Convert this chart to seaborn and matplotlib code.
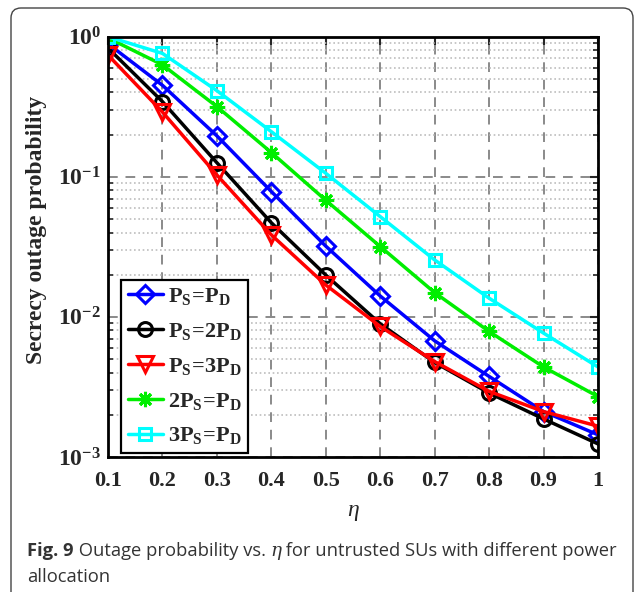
import matplotlib
matplotlib.use("Agg")
import matplotlib.pyplot as plt
import matplotlib.ticker as mticker
from matplotlib.patches import FancyBboxPatch
from matplotlib.transforms import IdentityTransform
import seaborn as sns
import numpy as np

eta = [0.1, 0.2, 0.3, 0.4, 0.5, 0.6, 0.7, 0.8, 0.9, 1.0]
ps_eq_pd = [0.89, 0.45, 0.196, 0.0785, 0.032, 0.0141, 0.00675, 0.00376, 0.00211, 0.00144]
ps_2pd = [0.83, 0.344, 0.126, 0.047, 0.0199, 0.00893, 0.00473, 0.00286, 0.00187, 0.00124]
ps_3pd = [0.74, 0.29, 0.103, 0.0385, 0.0169, 0.00855, 0.0048, 0.00294, 0.00211, 0.00166]
two_ps_pd = [0.98, 0.63, 0.317, 0.149, 0.068, 0.0318, 0.0149, 0.00787, 0.00439, 0.0027]
three_ps_pd = [1.0, 0.76, 0.412, 0.21, 0.106, 0.052, 0.0255, 0.0136, 0.00766, 0.00439]

labels = [r"$\mathbf{P_S\!=\!P_D}$", r"$\mathbf{P_S\!=\!2P_D}$", r"$\mathbf{P_S\!=\!3P_D}$",
          r"$\mathbf{2P_S\!=\!P_D}$", r"$\mathbf{3P_S\!=\!P_D}$"]
series = [ps_eq_pd, ps_2pd, ps_3pd, two_ps_pd, three_ps_pd]
colors = ["#0000ff", "#000000", "#ff0000", "#00ee00", "#00ffff"]
markers = ["D", "o", "v", (8, 2, 0), "s"]
msizes = [9, 10, 11, 11, 9]
xticks = [0.1, 0.2, 0.3, 0.4, 0.5, 0.6, 0.7, 0.8, 0.9, 1]
xticklabels = ["0.1", "0.2", "0.3", "0.4", "0.5", "0.6", "0.7", "0.8", "0.9", "1"]

sns.set_style("white")
plt.rcParams["font.family"] = ["Liberation Serif", "DejaVu Serif"]
plt.rcParams["mathtext.fontset"] = "custom"
plt.rcParams["mathtext.rm"] = "Liberation Serif:bold"
plt.rcParams["mathtext.bf"] = "Liberation Serif:bold"
plt.rcParams["mathtext.it"] = "Liberation Serif:italic"

fig = plt.figure(figsize=(6.35, 5.92), dpi=100)
ax = fig.add_axes([108 / 635, 1 - 457 / 592, 490 / 635, (457 - 36.7) / 592])

for vals, lab, c, m, ms in zip(series, labels, colors, markers, msizes):
    sns.lineplot(x=eta, y=vals, ax=ax, color=c, lw=2.5, marker=m, markersize=ms,
                 markerfacecolor="none", markeredgecolor=c, markeredgewidth=2.2, label=lab)

ax.set_yscale("log")
ax.set_xlim(0.1, 1.0)
ax.set_ylim(1e-3, 1.0)
ax.set_xticks(xticks)
ax.set_xticklabels(xticklabels)
ax.yaxis.set_major_locator(mticker.LogLocator(base=10, numticks=10))
ax.yaxis.set_minor_locator(mticker.LogLocator(base=10, subs=np.arange(2, 10), numticks=20))
ax.yaxis.set_minor_formatter(mticker.NullFormatter())
ax.yaxis.set_major_formatter(mticker.FuncFormatter(lambda v, p: r"$\mathbf{10^{%d}}$" % int(round(np.log10(v)))))

for lab in ax.get_xticklabels():
    lab.set_fontweight("bold")
ax.tick_params(axis="both", which="major", direction="in", length=6, width=1.5,
               top=True, right=True, labelsize=16, pad=10)
ax.tick_params(axis="y", which="major", labelsize=17, pad=5)
ax.tick_params(axis="y", which="minor", direction="in", length=3.5, width=1.2, right=True, left=True)

ax.grid(True, which="major", axis="both", color="#8a8a8a", linestyle=(0, (5, 4)), linewidth=1.4)
ax.grid(True, which="minor", axis="y", color="#bdbdbd", linestyle=(0, (1.0, 1.6)), linewidth=1.2)
ax.set_axisbelow(True)
for s in ax.spines.values():
    s.set_linewidth(2)
    s.set_color("black")

ax.set_ylabel("Secrecy outage probability", fontsize=17, fontweight="bold")
ax.yaxis.set_label_coords(-0.125, 0.54)
ax.set_xlabel(r"$\mathit{\eta}$", fontsize=17, labelpad=8)

leg = ax.legend(loc="lower left", bbox_to_anchor=(13 / 490, 4 / 420), borderaxespad=0,
                fontsize=16, frameon=True, fancybox=False, handlelength=1.6,
                handletextpad=0.2, labelspacing=0.62, borderpad=0.3)
leg.get_frame().set_edgecolor("black")
leg.get_frame().set_linewidth(1.6)
leg.get_frame().set_alpha(1)

# page frame
frame = FancyBboxPatch((11, -30), 622, 584 + 30, boxstyle="round,pad=0,rounding_size=10",
                       transform=IdentityTransform(), fill=False, edgecolor="#444444", linewidth=1.0)
fig.patches.append(frame)

# caption
renderer = fig.canvas.get_renderer()
cap_fs = 13.2
cf = ["Open Sans", "DejaVu Sans"]
y1 = 1 - 551 / 592
y2 = 1 - 577 / 592
x = 27 / 635
pieces = [("Fig. 9", "bold", "normal"), (" Outage probability vs. ", "normal", "normal"),
          ("η", "normal", "italic"), (" for untrusted SUs with different power", "normal", "normal")]
for txt, w, st in pieces:
    fam = cf if st == "normal" else ["DejaVu Serif"]
    t = fig.text(x, y1, txt, fontsize=cap_fs, fontweight=w, fontstyle=st, family=fam,
                 va="center", ha="left", color="#333333")
    bb = t.get_window_extent(renderer=renderer)
    x = (bb.x1) / fig.bbox.width
fig.text(27 / 635, y2, "allocation", fontsize=cap_fs, family=cf, va="center", ha="left", color="#333333")

fig.savefig("out.png", dpi=100)
